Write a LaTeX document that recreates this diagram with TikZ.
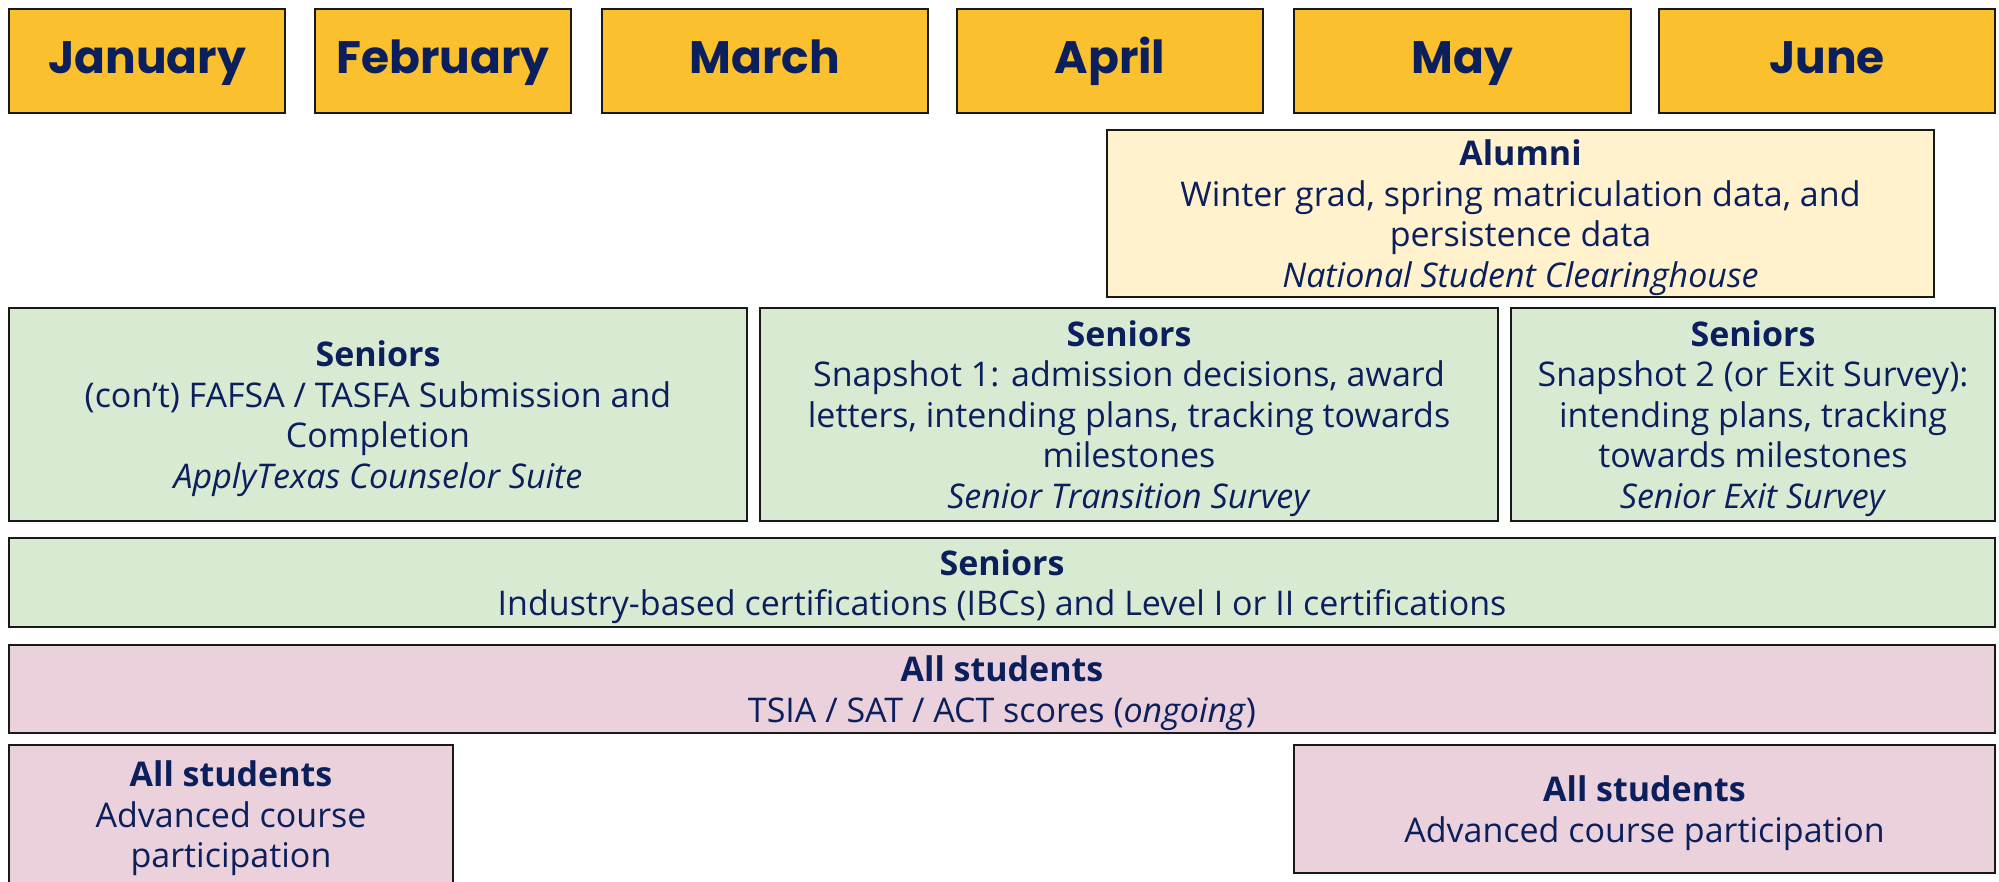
\documentclass[tikz,border=0pt]{standalone}
\usepackage{fontspec}
\setmainfont{Open Sans}
\newfontfamily\poppins{Poppins}
\definecolor{navy}{HTML}{0B1F5C}
\definecolor{gold}{HTML}{FBC02D}
\definecolor{cream}{HTML}{FFF2CC}
\definecolor{sage}{HTML}{D9EAD3}
\definecolor{rose}{HTML}{EAD1DC}
\newcommand{\boxhead}[1]{\rule{0pt}{34pt}\textbf{#1}}
\begin{document}
\begin{tikzpicture}[x=1pt,y=-1pt,
  box/.style={draw=black!90, line width=1.8pt, inner sep=0pt, align=center, text=navy,
    font=\fontsize{34}{40.5}\selectfont},
  month/.style={box, fill=gold, minimum height=104pt, text height=26pt, text depth=0pt,
    font=\poppins\bfseries\fontsize{45.5}{50}\selectfont},
  alum/.style={box, fill=cream},
  senior/.style={box, fill=sage},
  allst/.style={box, fill=rose}]
\useasboundingbox (0,0) rectangle (1999,882);
\node[month, minimum width=276pt] (jan) at (147,61) {January};
\node[month, minimum width=256pt] (feb) at (443,61) {February};
\node[month, minimum width=326pt] (mar) at (765,61) {March};
\node[month, minimum width=306pt] (apr) at (1110,61) {April};
\node[month, minimum width=337pt] (may) at (1462.5,61) {May};
\node[month, minimum width=336pt] (jun) at (1827,61) {June};
\node[alum, minimum width=827pt, minimum height=167pt] (alumni) at (1520.5,213.5)
  {\boxhead{Alumni}\\Winter grad, spring matriculation data, and\\persistence data\\\textit{National Student Clearinghouse}};
\node[senior, minimum width=738pt, minimum height=213pt] (sen1) at (378,414.5)
  {\boxhead{Seniors}\\(con’t) FAFSA / TASFA Submission and\\Completion\\\textit{ApplyTexas Counselor Suite}};
\node[senior, minimum width=738pt, minimum height=213pt] (sen2) at (1129,414.5)
  {\boxhead{Seniors}\\Snapshot 1: admission decisions, award\\letters, intending plans, tracking towards\\milestones\\\textit{Senior Transition Survey}};
\node[senior, minimum width=484pt, minimum height=213pt] (sen3) at (1753,414.5)
  {\boxhead{Seniors}\\Snapshot 2 (or Exit Survey):\\intending plans, tracking\\towards milestones\\\textit{Senior Exit Survey}};
\node[senior, minimum width=1986pt, minimum height=89pt] (ibc) at (1002,582.5)
  {\boxhead{Seniors}\\Industry-based certifications (IBCs) and Level I or II certifications};
\node[allst, minimum width=1986pt, minimum height=88pt] (tsia) at (1002,689)
  {\boxhead{All students}\\TSIA / SAT / ACT scores (\textit{ongoing})};
\node[allst, minimum width=444pt, minimum height=139pt] (advl) at (231,814.5)
  {\boxhead{All students}\\Advanced course\\participation};
\node[allst, minimum width=701pt, minimum height=128pt] (advr) at (1644.5,809)
  {\boxhead{All students}\\Advanced course participation};
\end{tikzpicture}
\end{document}
